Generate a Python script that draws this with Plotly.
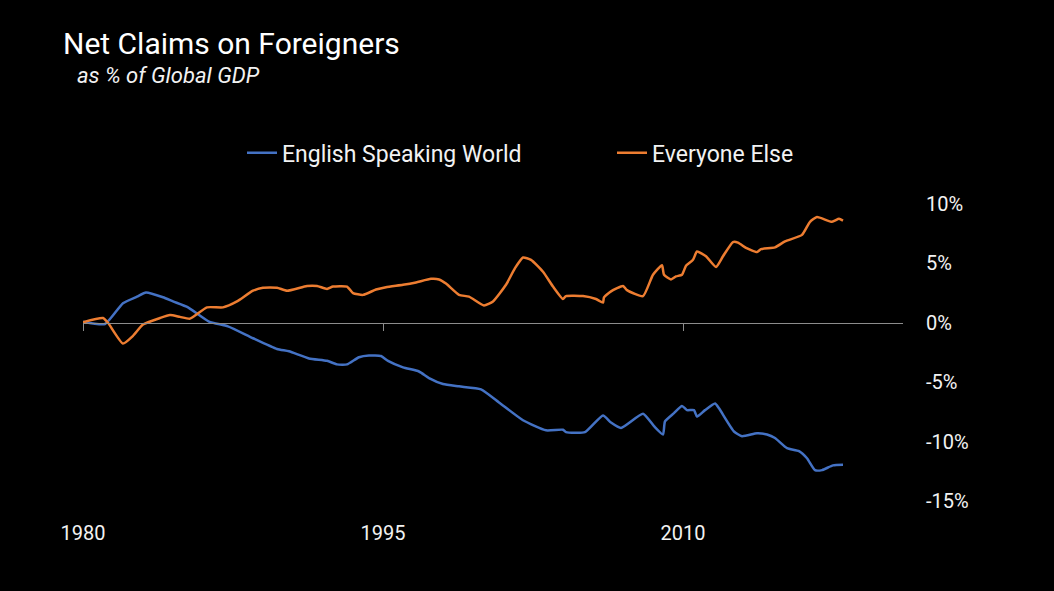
import plotly.graph_objects as go

# English Speaking World, net claims as % of global GDP
esw_years = [1980.0, 1981.1, 1982.0, 1982.7, 1983.15, 1984.0, 1984.5, 1985.25, 1986.3, 1987.25,
             1988.5, 1989.7, 1990.3, 1991.3, 1992.2, 1992.7, 1993.2, 1993.8, 1994.3, 1994.9,
             1995.25, 1996.0, 1996.8, 1997.3, 1998.0, 1998.8, 1999.9, 2000.8, 2002.0, 2003.15,
             2004.0, 2004.15, 2005.1, 2006.0, 2006.4, 2006.9, 2008.0, 2008.55, 2009.0, 2009.1,
             2009.55, 2009.95, 2010.2, 2010.55, 2010.7, 2011.1, 2011.6, 2011.8, 2012.55, 2012.95,
             2013.7, 2014.2, 2014.6, 2015.2, 2015.8, 2016.2, 2016.6, 2016.95, 2017.5, 2018.0]
esw_values = [0.1, -0.1, 1.65, 2.2, 2.55, 2.15, 1.8, 1.3, 0.1, -0.3,
              -1.3, -2.2, -2.4, -3.0, -3.2, -3.5, -3.5, -2.9, -2.75, -2.8,
              -3.2, -3.75, -4.1, -4.65, -5.15, -5.35, -5.6, -6.7, -8.2, -9.05,
              -9.0, -9.2, -9.2, -7.8, -8.4, -8.85, -7.65, -8.7, -9.4, -8.3,
              -7.6, -7.0, -7.35, -7.35, -7.9, -7.35, -6.8, -7.2, -9.15, -9.55,
              -9.3, -9.4, -9.7, -10.55, -10.8, -11.4, -12.4, -12.4, -12.0, -11.95]

# Everyone Else
ee_years = [1980.0, 1981.0, 1981.25, 1982.0, 1982.5, 1983.0, 1983.85, 1984.35, 1984.85, 1985.35,
            1986.2, 1987.0, 1987.7, 1988.5, 1989.0, 1989.7, 1990.2, 1991.2, 1991.7, 1992.2,
            1992.5, 1993.2, 1993.5, 1994.0, 1994.65, 1995.15, 1996.0, 1996.65, 1997.4, 1997.8,
            1998.15, 1998.8, 1999.3, 2000.05, 2000.5, 2001.15, 2001.6, 2002.0, 2002.4, 2003.0,
            2003.5, 2004.0, 2004.15, 2005.0, 2005.65, 2006.0, 2006.05, 2006.4, 2007.0, 2007.2,
            2008.0, 2008.5, 2008.95, 2009.05, 2009.4, 2009.65, 2009.95, 2010.15, 2010.5, 2010.7,
            2011.15, 2011.65, 2012.0, 2012.5, 2012.75, 2013.15, 2013.7, 2013.9, 2014.6, 2015.1,
            2015.95, 2016.35, 2016.7, 2017.45, 2017.8, 2018.0]
ee_values = [0.05, 0.4, 0.0, -1.75, -1.1, -0.15, 0.4, 0.65, 0.5, 0.35,
             1.3, 1.3, 1.8, 2.7, 2.95, 2.95, 2.7, 3.1, 3.1, 2.85,
             3.05, 3.05, 2.5, 2.35, 2.8, 3.0, 3.2, 3.4, 3.7, 3.65,
             3.3, 2.35, 2.2, 1.45, 1.8, 3.2, 4.6, 5.5, 5.3, 4.3,
             3.05, 2.0, 2.25, 2.25, 2.0, 1.7, 2.15, 2.65, 3.1, 2.75,
             2.25, 4.05, 4.85, 4.05, 3.65, 3.9, 4.05, 4.8, 5.3, 6.0,
             5.6, 4.7, 5.6, 6.8, 6.75, 6.3, 5.95, 6.2, 6.35, 6.85,
             7.4, 8.5, 8.9, 8.5, 8.75, 8.6]

x_ticks = [1980, 1995, 2010]
y_ticks = [-15, -10, -5, 0, 5, 10]
y_labels = ["-15%", "-10%", "-5%", "0%", "5%", "10%"]

font = "Roboto"
txt = "#f2f2f2"

fig = go.Figure()
fig.add_trace(go.Scatter(x=esw_years, y=esw_values, mode="lines", name="English Speaking World",
                         line=dict(color="#4472C4", width=2.5, shape="spline", smoothing=0.5)))
fig.add_trace(go.Scatter(x=ee_years, y=ee_values, mode="lines", name="Everyone Else",
                         line=dict(color="#ED7D31", width=2.5, shape="spline", smoothing=0.5),
                         xaxis="x2"))

fig.update_layout(
    width=1054, height=591,
    paper_bgcolor="black", plot_bgcolor="black",
    font=dict(family=font, color=txt, size=19),
    margin=dict(l=83, r=151, t=204, b=90),
    title=dict(text="Net Claims on Foreigners", xref="container", x=63 / 1054,
               yref="container", y=1 - 43 / 591, yanchor="middle",
               font=dict(size=30, color="white")),
    showlegend=True,
    legend=dict(orientation="h", x=(242 - 83) / 820, xanchor="left",
                y=1.172, yanchor="middle",
                entrywidth=325, entrywidthmode="pixels", font=dict(size=23, color=txt),
                bgcolor="rgba(0,0,0,0)"),
    xaxis=dict(range=[1980, 2021], tickvals=x_ticks, showgrid=False, zeroline=False,
               showline=False, ticks="", ticklabelstandoff=18, tickfont=dict(size=20)),
    xaxis2=dict(overlaying="x", matches="x", anchor="free", position=0.6,
                showline=True, linecolor="#8c8c8c", linewidth=1, ticks="outside",
                ticklen=7, tickcolor="#8c8c8c", tickvals=x_ticks, showticklabels=False,
                showgrid=False, zeroline=False),
    yaxis=dict(range=[-15, 10], side="right", tickvals=y_ticks, ticktext=y_labels,
               showgrid=False, zeroline=False, showline=False, ticks="",
               ticklabelstandoff=22, tickfont=dict(size=20)),
    annotations=[dict(text="<i>as % of Global GDP</i>", xref="paper", yref="paper",
                      x=-0.01, y=1.434, xanchor="left", yanchor="middle", showarrow=False,
                      font=dict(size=22, color=txt))],
)

fig.write_html("out.html", config={"displayModeBar": False},
               post_script="document.body.style.margin='0';document.body.style.background='black';")
